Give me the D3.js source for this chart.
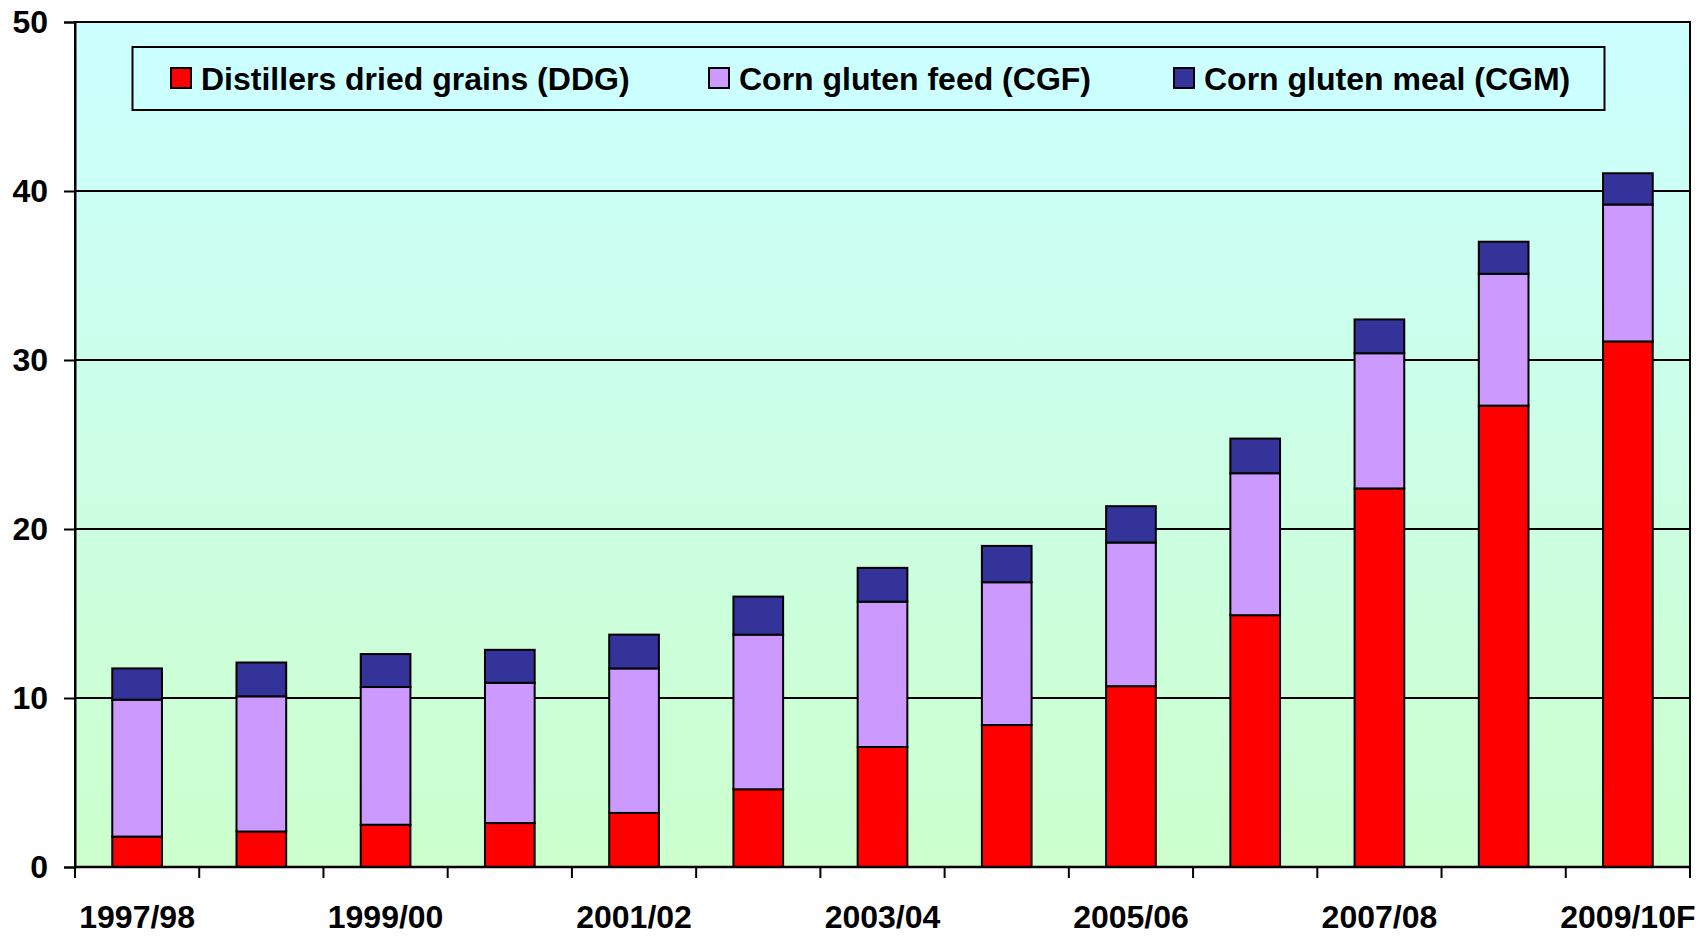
<!DOCTYPE html>
<html>
<head>
<meta charset="utf-8">
<script src="https://cdn.jsdelivr.net/npm/d3@7"></script>
<style>
  body { margin: 0; background: #ffffff; }
  text { font-family: "Liberation Sans", Arial, sans-serif; font-weight: bold; }
</style>
</head>
<body>
<div id="viz"></div>
<script>
// marketing years (every other one gets a label)
const years = ["1997/98", "1998/99", "1999/00", "2000/01", "2001/02", "2002/03", "2003/04",
  "2004/05", "2005/06", "2006/07", "2007/08", "2008/09", "2009/10F"];
const shownYears = ["1997/98", "1999/00", "2001/02", "2003/04", "2005/06", "2007/08", "2009/10F"];

// values (stacked)
const ddg = [1.8, 2.1, 2.5, 2.6, 3.2, 4.6, 7.1, 8.4, 10.7, 14.9, 22.4, 27.3, 31.1];
const cgf = [8.1, 8.0, 8.15, 8.3, 8.55, 9.15, 8.6, 8.45, 8.5, 8.4, 8.0, 7.8, 8.1];
const cgm = [1.85, 2.0, 1.95, 1.95, 2.0, 2.25, 2.0, 2.15, 2.15, 2.05, 2.0, 1.9, 1.85];

const seriesNames = ["Distillers dried grains (DDG)", "Corn gluten feed (CGF)", "Corn gluten meal (CGM)"];
const seriesKeys = ["ddg", "cgf", "cgm"];
const seriesColors = ["#ff0000", "#cc99ff", "#333399"];
const yTicks = [0, 10, 20, 30, 40, 50];

let width = 1704;
let height = 938;
let margin = { top: 22, bottom: 71, left: 75, right: 14 };

let tableData = years.map((y, i) => ({ year: y, ddg: ddg[i], cgf: cgf[i], cgm: cgm[i] }));
let stacked = d3.stack().keys(seriesKeys)(tableData);

let svg = d3.select("#viz")
  .append("svg")
  .attr("width", width)
  .attr("height", height);

let grad = svg.append("defs")
  .append("linearGradient")
  .attr("id", "bg")
  .attr("x1", 0).attr("y1", 0).attr("x2", 0).attr("y2", 1);
grad.append("stop").attr("offset", "0%").attr("stop-color", "#ccffff");
grad.append("stop").attr("offset", "100%").attr("stop-color", "#ccffcc");

let xScale = d3.scaleBand()
  .domain(years)
  .range([margin.left, width - margin.right])
  .paddingInner(0.6)
  .paddingOuter(0.3);

let yScale = d3.scaleLinear()
  .domain([0, 50])
  .range([height - margin.bottom, margin.top]);

// plot background
svg.append("rect")
  .attr("x", margin.left)
  .attr("y", margin.top)
  .attr("width", width - margin.left - margin.right)
  .attr("height", height - margin.top - margin.bottom)
  .attr("fill", "url(#bg)");

// gridlines
svg.append("g")
  .selectAll("line")
  .data(yTicks.slice(1, -1))
  .join("line")
  .attr("x1", margin.left)
  .attr("x2", width - margin.right)
  .attr("y1", d => yScale(d))
  .attr("y2", d => yScale(d))
  .attr("stroke", "#000")
  .attr("stroke-width", 1.8);

// bars
svg.append("g")
  .selectAll("g")
  .data(stacked)
  .join("g")
  .attr("fill", (d, i) => seriesColors[i])
  .selectAll("rect")
  .data(d => d)
  .join("rect")
  .attr("x", d => xScale(d.data.year))
  .attr("y", d => yScale(d[1]))
  .attr("height", d => yScale(d[0]) - yScale(d[1]))
  .attr("width", xScale.bandwidth())
  .attr("stroke", "#000")
  .attr("stroke-width", 2);

// frame
svg.append("rect")
  .attr("x", margin.left)
  .attr("y", margin.top)
  .attr("width", width - margin.left - margin.right)
  .attr("height", height - margin.top - margin.bottom)
  .attr("fill", "none")
  .attr("stroke", "#000")
  .attr("stroke-width", 2);

// y axis
let yAxis = svg.append("g")
  .attr("transform", `translate(${margin.left}, 0)`)
  .call(d3.axisLeft(yScale).tickValues(yTicks).tickSize(11).tickPadding(16));
yAxis.select(".domain").attr("stroke-width", 2);
yAxis.selectAll(".tick line").attr("stroke-width", 2);
yAxis.selectAll(".tick text")
  .attr("font-size", "32px")
  .attr("font-family", "Liberation Sans, Arial, sans-serif")
  .attr("font-weight", "bold")
  .attr("fill", "#000");

// x axis: ticks on band edges, labels under every other band
let xEdges = years.map(y => xScale(y) - xScale.step() * xScale.paddingInner() / 2).concat([width - margin.right]);
let xAxis = svg.append("g")
  .attr("transform", `translate(0, ${height - margin.bottom})`);
xAxis.append("line")
  .attr("x1", margin.left)
  .attr("x2", width - margin.right)
  .attr("stroke", "#000")
  .attr("stroke-width", 2.5);
xAxis.selectAll(".edge")
  .data(xEdges)
  .join("line")
  .attr("class", "edge")
  .attr("x1", d => d)
  .attr("x2", d => d)
  .attr("y1", 0)
  .attr("y2", 11)
  .attr("stroke", "#000")
  .attr("stroke-width", 2);
xAxis.selectAll("text")
  .data(shownYears)
  .join("text")
  .attr("x", d => xScale(d) + xScale.bandwidth() / 2)
  .attr("y", 61)
  .attr("text-anchor", "middle")
  .attr("font-size", "32px")
  .text(d => d);

// legend
let legend = svg.append("g");
legend.append("rect")
  .attr("x", 132.5)
  .attr("y", 47)
  .attr("width", 1472)
  .attr("height", 63)
  .attr("fill", "#ccffff")
  .attr("stroke", "#000")
  .attr("stroke-width", 2);

let legendX = [171, 709, 1174];
let items = legend.selectAll(".item")
  .data(seriesNames)
  .join("g")
  .attr("class", "item")
  .attr("transform", (d, i) => `translate(${legendX[i]}, 68)`);
items.append("rect")
  .attr("width", 20)
  .attr("height", 20)
  .attr("fill", (d, i) => seriesColors[i])
  .attr("stroke", "#000")
  .attr("stroke-width", 2);
items.append("text")
  .attr("x", 30)
  .attr("y", 22)
  .attr("font-size", "32px")
  .text(d => d);
</script>
</body>
</html>
